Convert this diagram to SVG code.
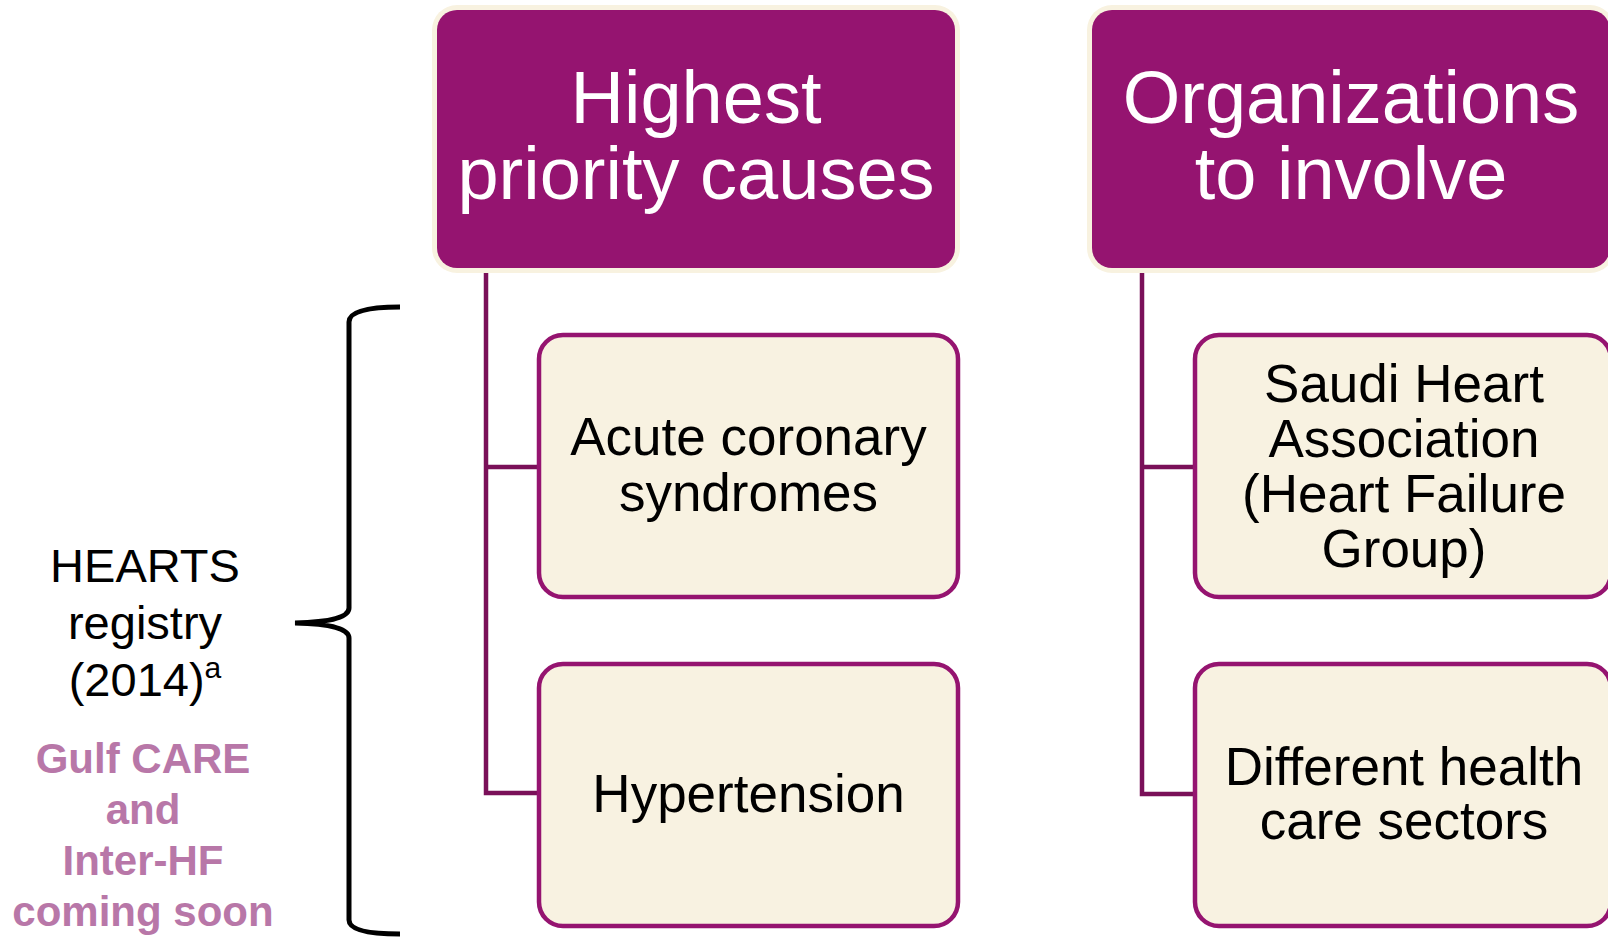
<svg xmlns="http://www.w3.org/2000/svg" width="1608" height="939" viewBox="0 0 1608 939">
<style>
.hdr-bg{fill:#F8F2E0}
.hdr{fill:#951470}
.hdr-t{font-family:"Liberation Sans",Arial,sans-serif;font-size:74px;fill:#ffffff;text-anchor:middle}
.child{fill:#F8F2E1;stroke:#951470;stroke-width:4.5}
.child-t{font-family:"Liberation Sans",Arial,sans-serif;font-size:53px;fill:#000000;text-anchor:middle}
.conn{fill:none;stroke:#7A1059;stroke-width:4.5}
.side{font-family:"Liberation Sans",Arial,sans-serif;font-size:47px;fill:#000000;text-anchor:middle}
.pink{font-family:"Liberation Sans",Arial,sans-serif;font-size:42px;font-weight:bold;fill:#B877A8;text-anchor:middle}
</style>
<rect width="1608" height="939" fill="#ffffff"/>
<g id="connectors">
<path class="conn" d="M486 268 V793 H539"/>
<path class="conn" d="M486 467 H539"/>
<path class="conn" d="M1142 268 V794 H1195"/>
<path class="conn" d="M1142 467 H1195"/>
</g>
<g id="header-causes">
<rect class="hdr-bg" x="432" y="5" width="528" height="268" rx="25"/>
<rect class="hdr" x="437" y="10" width="518" height="258" rx="20"/>
<text class="hdr-t" x="696" y="123">Highest</text>
<text class="hdr-t" x="696" y="199">priority causes</text>
</g>
<g id="header-orgs">
<rect class="hdr-bg" x="1087" y="5" width="528" height="268" rx="25"/>
<rect class="hdr" x="1092" y="10" width="518" height="258" rx="20"/>
<text class="hdr-t" x="1351" y="123">Organizations</text>
<text class="hdr-t" x="1351" y="199">to involve</text>
</g>
<g id="node-acs">
<rect class="child" x="539" y="335" width="419" height="262" rx="24"/>
<text class="child-t" x="748.5" y="455">Acute coronary</text>
<text class="child-t" x="748.5" y="511">syndromes</text>
</g>
<g id="node-hypertension">
<rect class="child" x="539" y="664" width="419" height="262" rx="24"/>
<text class="child-t" x="748.5" y="812">Hypertension</text>
</g>
<g id="node-sha">
<rect class="child" x="1195" y="335" width="416" height="262" rx="24"/>
<text class="child-t" x="1404" y="402">Saudi Heart</text>
<text class="child-t" x="1404" y="457">Association</text>
<text class="child-t" x="1404" y="512">(Heart Failure</text>
<text class="child-t" x="1404" y="567">Group)</text>
</g>
<g id="node-sectors">
<rect class="child" x="1195" y="664" width="416" height="262" rx="24"/>
<text class="child-t" x="1404" y="785">Different health</text>
<text class="child-t" x="1404" y="839">care sectors</text>
</g>
<g id="registry">
<path d="M400 307 Q349 307 349 322 L349 608 Q349 622 295 623 Q349 624 349 638 L349 920 Q349 934 400 934" fill="none" stroke="#000000" stroke-width="5"/>
<text class="side" x="145" y="582">HEARTS</text>
<text class="side" x="145" y="639">registry</text>
<text class="side" x="145" y="696">(2014)<tspan font-size="30" dy="-18">a</tspan></text>
<text class="pink" x="143" y="773">Gulf CARE</text>
<text class="pink" x="143" y="824">and</text>
<text class="pink" x="143" y="875">Inter-HF</text>
<text class="pink" x="143" y="926">coming soon</text>
</g>
</svg>
